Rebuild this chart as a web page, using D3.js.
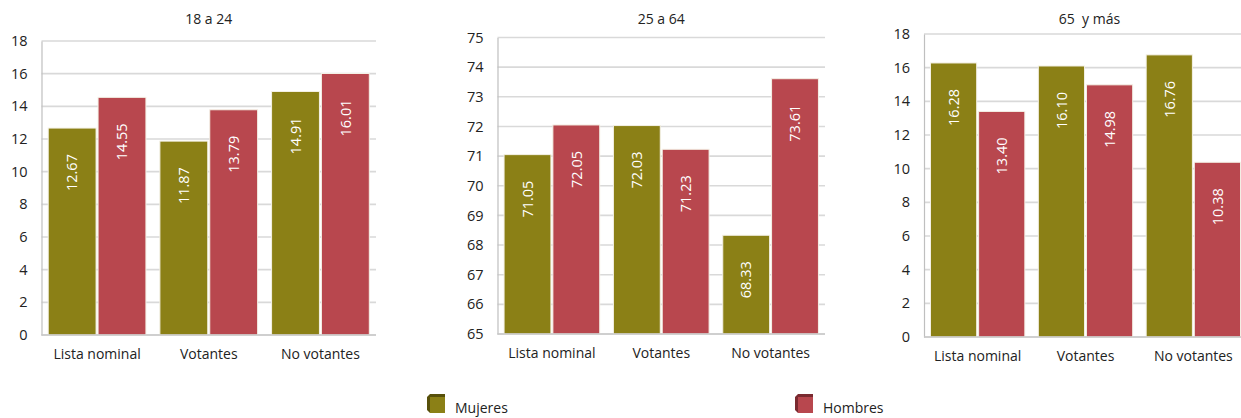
<!DOCTYPE html>
<html><head><meta charset="utf-8">
<script src="https://cdn.jsdelivr.net/npm/d3@7"></script>
<style>body{margin:0;background:#fff}svg{display:block;font-family:"Open Sans",sans-serif}text{white-space:pre}</style>
</head><body><svg id="c" width="1241" height="418"></svg>
<script>
const categories = ["Lista nominal", "Votantes", "No votantes"];
const seriesNames = ["Mujeres", "Hombres"];
const panelTitles = ["18 a 24", "25 a 64", "65  y más"];
const mujeres1824 = [12.67, 11.87, 14.91];
const hombres1824 = [14.55, 13.79, 16.01];
const mujeres2564 = [71.05, 72.03, 68.33];
const hombres2564 = [72.05, 71.23, 73.61];
const mujeres65 = [16.28, 16.10, 16.76];
const hombres65 = [13.40, 14.98, 10.38];
const domains = [[0, 18], [65, 75], [0, 18]];
const tickSteps = [2, 1, 2];

const colors = {Mujeres: "#8b8016", Hombres: "#b8474e"};
const darkColors = {Mujeres: "#57500a", Hombres: "#7a2a30"};

const panels = [
  {title: panelTitles[0], m: mujeres1824, h: hombres1824, dom: domains[0], step: tickSteps[0], x0: 41.5, x1: 376, y0: 41, y1: 335},
  {title: panelTitles[1], m: mujeres2564, h: hombres2564, dom: domains[1], step: tickSteps[1], x0: 497.5, x1: 825, y0: 37.5, y1: 334},
  {title: panelTitles[2], m: mujeres65, h: hombres65, dom: domains[2], step: tickSteps[2], x0: 924, x1: 1247, y0: 34, y1: 337}
];

const svg = d3.select("#c");

panels.forEach((p, pi) => {
  const g = svg.append("g");
  const y = d3.scaleLinear().domain(p.dom).range([p.y1, p.y0]);
  const x = d3.scaleBand().domain(categories).range([p.x0, p.x1]).paddingInner(0.125).paddingOuter(0.06);
  const xs = d3.scaleBand().domain(seriesNames).range([0, x.bandwidth()]).paddingInner(0.04);
  const ticks = d3.range(p.dom[0], p.dom[1] + 0.001, p.step);

  g.append("g").selectAll("line").data(ticks).join("line")
    .attr("x1", p.x0).attr("x2", p.x1)
    .attr("y1", d => y(d)).attr("y2", d => y(d))
    .attr("stroke", "#d9d9d9").attr("stroke-width", 1.6);

  const ya = g.append("g").attr("transform", `translate(${p.x0},0)`)
    .call(d3.axisLeft(y).tickValues(ticks).tickSize(0).tickPadding(14).tickFormat(d3.format("d")));
  ya.select(".domain").attr("stroke", "#bfbfbf").attr("stroke-width", 1.2);
  ya.selectAll("text").attr("font-size", 14.5).attr("fill", "#222").attr("font-family", "Open Sans, sans-serif");

  const rows = categories.map((c, i) => ({c, vals: [{s: "Mujeres", v: p.m[i]}, {s: "Hombres", v: p.h[i]}]}));
  const grp = g.append("g").selectAll("g").data(rows).join("g")
    .attr("transform", d => `translate(${x(d.c)},0)`);
  grp.selectAll("rect").data(d => d.vals).join("rect")
    .attr("x", d => xs(d.s)).attr("width", xs.bandwidth())
    .attr("y", d => y(d.v)).attr("height", d => y(p.dom[0]) - y(d.v))
    .attr("fill", d => colors[d.s]).attr("stroke", "#f4f1e6").attr("stroke-width", 1);
  grp.selectAll("text").data(d => d.vals).join("text")
    .attr("transform", d => `translate(${xs(d.s) + xs.bandwidth() / 2},${y(d.v) + 26}) rotate(-90)`)
    .attr("text-anchor", "end").attr("dy", "0.36em")
    .attr("fill", "#fff").attr("font-size", 14.5)
    .text(d => d.v.toFixed(2));

  g.append("line").attr("x1", p.x0).attr("x2", p.x1).attr("y1", p.y1).attr("y2", p.y1)
    .attr("stroke", "#c8c8c8").attr("stroke-width", 1.6);

  g.append("g").selectAll("text").data(categories).join("text")
    .attr("x", d => x(d) + x.bandwidth() / 2).attr("y", p.y1 + 24)
    .attr("text-anchor", "middle").attr("font-size", 14).attr("fill", "#222")
    .text(d => d);

  g.append("text").attr("x", (p.x0 + Math.min(p.x1, 1241)) / 2 + (pi === 2 ? 7 : 0)).attr("y", 24)
    .attr("text-anchor", "middle").attr("font-size", 14).attr("fill", "#222")
    .text(p.title);
});

const legendX = {Mujeres: 427, Hombres: 795};
seriesNames.forEach(s => {
  const lx = legendX[s], ly = 394;
  const lg = svg.append("g");
  lg.append("path")
    .attr("d", `M${lx},${ly + 3} L${lx + 3},${ly} L${lx + 18},${ly} L${lx + 18},${ly + 3} L${lx + 3},${ly + 19} L${lx},${ly + 16} Z`)
    .attr("fill", darkColors[s]);
  lg.append("rect").attr("x", lx + 3).attr("y", ly + 3).attr("width", 15).attr("height", 16)
    .attr("fill", colors[s]);
  lg.append("text").attr("x", lx + 28).attr("y", ly + 19).attr("font-size", 14).attr("fill", "#222").text(s);
});
</script></body></html>
